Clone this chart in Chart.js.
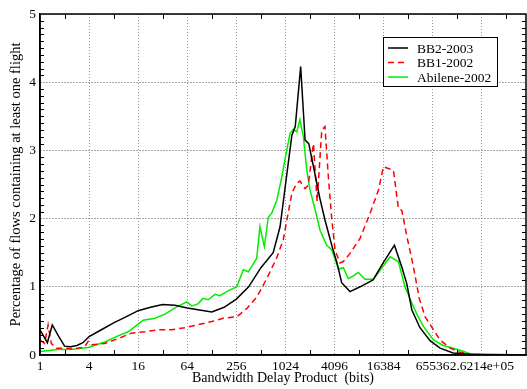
<!DOCTYPE html>
<html>
<head>
<meta charset="utf-8">
<script src="https://cdn.jsdelivr.net/npm/chart.js@4.4.0/dist/chart.umd.min.js"></script>
<style>
  html, body { margin: 0; padding: 0; background: #fff; }
  #wrap { width: 527px; height: 389px; }
</style>
</head>
<body>
<div id="wrap"><canvas id="grafico" width="527" height="389"></canvas></div>
<script>
// Eje X: log2 del BDP en bits (1 = 2^0 ... 2^18)
const xTickExp = [0, 2, 4, 6, 8, 10, 12, 14, 16, 18];
const xTickLabels = ['1', '4', '16', '64', '256', '1024', '4096', '16384', '65536', '2.6214e+05'];

// BB2-2003
const bb2Exp = [0, 0.3, 0.5, 0.75, 1, 1.25, 1.5, 1.75, 2, 2.5, 3, 3.5, 4, 4.5, 5, 5.5, 6, 6.5, 7, 7.5, 8, 8.5, 9, 9.5, 9.78,
    10.26, 10.4, 10.62, 10.8, 10.95, 11.4, 11.61, 11.9, 12.1, 12.29, 12.63, 13.04, 13.57, 13.98, 14.44, 14.74, 14.94, 15.15,
    15.48, 15.89, 16.3, 16.83, 17.5, 18, 19, 19.8];
const bb2Pct = [0.37, 0.18, 0.44, 0.28, 0.13, 0.12, 0.14, 0.18, 0.27, 0.37, 0.47, 0.56, 0.65, 0.70, 0.74, 0.73, 0.69, 0.66, 0.63, 0.70, 0.82, 1.0, 1.28, 1.5, 1.88,
    3.22, 3.35, 4.23, 3.15, 3.1, 2.3, 1.98, 1.59, 1.35, 1.06, 0.93, 1.0, 1.1, 1.35, 1.61, 1.29, 1.05, 0.66,
    0.40, 0.21, 0.10, 0.03, 0.01, 0.005, 0, 0];

// BB1-2002
const bb1Exp = [0, 0.19, 0.33, 0.46, 0.66, 1.0, 1.41, 1.82, 1.96, 2.09, 2.64, 3.18, 3.72, 4.27, 4.81, 5.35, 5.9, 6.39, 7.0, 7.47,
    8.02, 8.42, 8.83, 9.24, 9.65, 9.91, 10.12, 10.26, 10.46, 10.59, 10.8, 10.93, 11.14, 11.29, 11.48, 11.61, 11.75, 11.89,
    12.02, 12.22, 12.36, 12.63, 13.04, 13.45, 13.79, 13.99, 14.4, 14.6, 14.74, 14.94, 15.2, 15.45, 15.69, 16.03, 16.3,
    16.71, 17.11, 17.52, 18, 19.8];
const bb1Pct = [0.22, 0.17, 0.44, 0.17, 0.10, 0.10, 0.09, 0.12, 0.2, 0.15, 0.17, 0.24, 0.32, 0.34, 0.37, 0.37, 0.40, 0.44, 0.49, 0.54,
    0.56, 0.68, 0.85, 1.12, 1.43, 1.69, 2.1, 2.37, 2.52, 2.55, 2.44, 2.49, 3.1, 2.25, 3.3, 3.35, 2.6, 1.98,
    1.54, 1.35, 1.37, 1.49, 1.71, 2.08, 2.42, 2.76, 2.71, 2.15, 2.12, 1.75, 1.32, 0.83, 0.56, 0.37, 0.22,
    0.1, 0.04, 0.01, 0.005, 0];

// Abilene-2002
const abileneExp = [0, 0.73, 1.26, 1.96, 2.64, 3.18, 3.59, 3.99, 4.2, 4.69, 5.09, 5.5, 5.98, 6.18, 6.44, 6.64, 6.85, 7.13, 7.33,
    7.66, 8.02, 8.28, 8.49, 8.83, 8.96, 9.14, 9.3, 9.44, 9.65, 9.85, 10.05, 10.19, 10.32, 10.46, 10.59, 10.73, 10.87, 11.0,
    11.21, 11.41, 11.68, 11.89, 12.16, 12.36, 12.56, 12.77, 12.97, 13.24, 13.58, 13.92, 14.26, 14.6, 14.87, 15.08, 15.35,
    15.62, 16.03, 16.43, 16.84, 17.11, 17.52, 18.46, 19.8];
const abilenePct = [0.05, 0.08, 0.08, 0.11, 0.19, 0.28, 0.34, 0.45, 0.51, 0.54, 0.60, 0.69, 0.78, 0.72, 0.75, 0.83, 0.81, 0.89, 0.87,
    0.94, 1.0, 1.25, 1.22, 1.42, 1.88, 1.59, 2.02, 2.08, 2.27, 2.61, 3.0, 3.25, 3.31, 3.27, 3.45, 3.2, 2.71, 2.42,
    2.13, 1.83, 1.61, 1.54, 1.26, 1.28, 1.12, 1.16, 1.21, 1.11, 1.11, 1.27, 1.44, 1.37, 1.0, 0.82, 0.6,
    0.42, 0.22, 0.14, 0.10, 0.07, 0.02, 0.01, 0];

const puntos = (xs, ys) => xs.map((x, i) => ({ x: x, y: ys[i] }));

Chart.defaults.font.family = "'Liberation Serif', 'DejaVu Serif', serif";
Chart.defaults.font.size = 13.5;
Chart.defaults.color = '#000';

// Marco, ticks hacia dentro y leyenda dentro del área
const marcoPlugin = {
    id: 'marco',
    afterDatasetsDraw(chart) {
        const { ctx, chartArea: a, scales: { x, y } } = chart;
        ctx.save();
        ctx.strokeStyle = '#000';
        ctx.lineWidth = 1;
        ctx.beginPath();
        for (let e = 1; e <= 19; e += 2) {
            const px = Math.round(x.getPixelForValue(e)) + 0.5;
            ctx.moveTo(px, a.bottom); ctx.lineTo(px, a.bottom - 5);
            ctx.moveTo(px, a.top); ctx.lineTo(px, a.top + 5);
        }
        for (let k = 1; k < 50; k++) {
            if (k % 10 === 0) continue;
            const py = Math.round(y.getPixelForValue(k / 10)) + 0.5;
            ctx.moveTo(a.left, py); ctx.lineTo(a.left + 4, py);
            ctx.moveTo(a.right, py); ctx.lineTo(a.right - 4, py);
        }
        ctx.stroke();
        ctx.lineWidth = 1.5;
        ctx.strokeRect(a.left, a.top, a.right - a.left, a.bottom - a.top);
        ctx.restore();
    },
    afterDraw(chart) {
        const { ctx } = chart;
        const bx = 383.5, by = 37.5, bw = 114, bh = 49;
        ctx.save();
        ctx.fillStyle = '#fff';
        ctx.fillRect(bx, by, bw, bh);
        ctx.strokeStyle = '#000';
        ctx.lineWidth = 1;
        ctx.strokeRect(bx, by, bw, bh);
        ctx.font = "13.5px 'Liberation Serif', serif";
        ctx.textBaseline = 'middle';
        ctx.fillStyle = '#000';
        chart.data.datasets.forEach((ds, i) => {
            const ry = 48 + i * 14.5;
            ctx.beginPath();
            ctx.strokeStyle = ds.borderColor;
            ctx.lineWidth = ds.borderWidth;
            ctx.setLineDash(ds.borderDash || []);
            ctx.moveTo(388, ry); ctx.lineTo(408, ry);
            ctx.stroke();
            ctx.setLineDash([]);
            ctx.fillText(ds.label, 417, ry + 1);
        });
        ctx.restore();
    }
};

const grafico = new Chart(document.getElementById('grafico').getContext('2d'), {
    type: 'line',
    data: {
        datasets: [
            {
                label: 'BB2-2003',
                data: puntos(bb2Exp, bb2Pct),
                borderColor: '#000000',
                borderWidth: 1.5,
            },
            {
                label: 'BB1-2002',
                data: puntos(bb1Exp, bb1Pct),
                borderColor: '#ff0000',
                borderWidth: 1.5,
                borderDash: [6, 4],
            },
            {
                label: 'Abilene-2002',
                data: puntos(abileneExp, abilenePct),
                borderColor: '#00ee00',
                borderWidth: 1.5,
            }
        ]
    },
    options: {
        responsive: false,
        animation: false,
        layout: { padding: { top: 14, right: 1, left: 0, bottom: 0 } },
        elements: { point: { radius: 0 }, line: { tension: 0 } },
        plugins: { legend: { display: false }, tooltip: { enabled: false } },
        scales: {
            x: {
                type: 'linear',
                min: 0,
                max: 19.8,
                afterBuildTicks: (s) => { s.ticks = xTickExp.map(v => ({ value: v })); },
                afterFit: (s) => { s.height = 34; },
                ticks: {
                    autoSkip: false,
                    maxRotation: 0,
                    padding: 3,
                    callback: (v, i) => xTickLabels[i]
                },
                grid: { color: '#9a9a9a', lineWidth: 1, drawTicks: false },
                border: { color: '#000', width: 1.5, dash: [1, 2] },
                title: {
                    display: true, text: 'Bandwidth Delay Product  (bits)',
                    font: { size: 14 }, padding: { top: 0, bottom: 2 }
                }
            },
            y: {
                min: 0,
                max: 5,
                afterFit: (s) => { s.width = 40; },
                ticks: { stepSize: 1, padding: 4 },
                grid: { color: '#555', lineWidth: 1, drawTicks: false },
                border: { color: '#000', width: 1.5, dash: [1, 2] },
                title: {
                    display: true, text: 'Percentage of flows containing at least one flight',
                    font: { size: 14.5 }, padding: { top: 7, bottom: 0 }
                }
            }
        }
    },
    plugins: [marcoPlugin]
});
</script>
</body>
</html>
